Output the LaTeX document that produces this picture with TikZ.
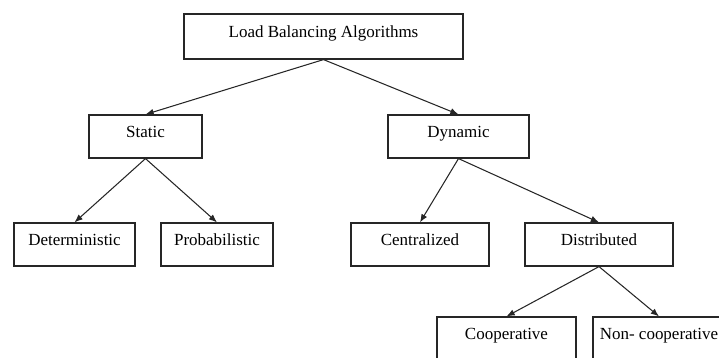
\documentclass[tikz,border=0pt]{standalone}
\usepackage{fontspec}
\setmainfont{Liberation Serif}
\usepackage{tikz}
\usetikzlibrary{arrows.meta}

\begin{document}
\begin{tikzpicture}[x=0.03cm,y=-0.03cm]
					\tikzstyle{block} = [rectangle,draw=black!85,line width=1pt,fill=white,inner sep=0pt,font=\fontsize{14.5}{17}\selectfont,text height=10pt,text depth=7.5pt,minimum height=1.29cm]
					\tikzstyle{edge} = [-{Latex[length=7pt,width=5.5pt]},line width=0.9pt,draw=black!85]
					\clip (0,0) rectangle (719,357);
					\node[block,minimum width=8.37cm,minimum height=1.35cm] (n1) at (323.5,36.5) {Load Balancing Algorithms};
					\node[block,minimum width=3.39cm] (n2) at (145.5,136.5) {Static};
					\node[block,minimum width=4.23cm] (n3) at (458.5,136.5) {Dynamic};
					\node[block,minimum width=3.63cm] (n4) at (74.5,244.5) {Deterministic};
					\node[block,minimum width=3.36cm] (n5) at (217,244.5) {Probabilistic};
					\node[block,minimum width=4.14cm] (n6) at (420,244.5) {Centralized};
					\node[block,minimum width=4.44cm] (n7) at (599,244.5) {Distributed};
					\node[block,minimum width=4.17cm] (n8) at (506.5,338.5) {Cooperative};
					\node[block,minimum width=3.96cm] (n9) at (659,338.5) {Non- cooperative};
					\draw[edge] (n1.south)--(n2.north);
					\draw[edge] (n1.south)--(n3.north);
					\draw[edge] (n2.south)--(n4.north);
					\draw[edge] (n2.south)--(n5.north);
					\draw[edge] (n3.south)--(n6.north);
					\draw[edge] (n3.south)--(n7.north);
					\draw[edge] (n7.south)--(n8.north);
					\draw[edge] (n7.south)--(n9.north);
\end{tikzpicture}
\end{document}
